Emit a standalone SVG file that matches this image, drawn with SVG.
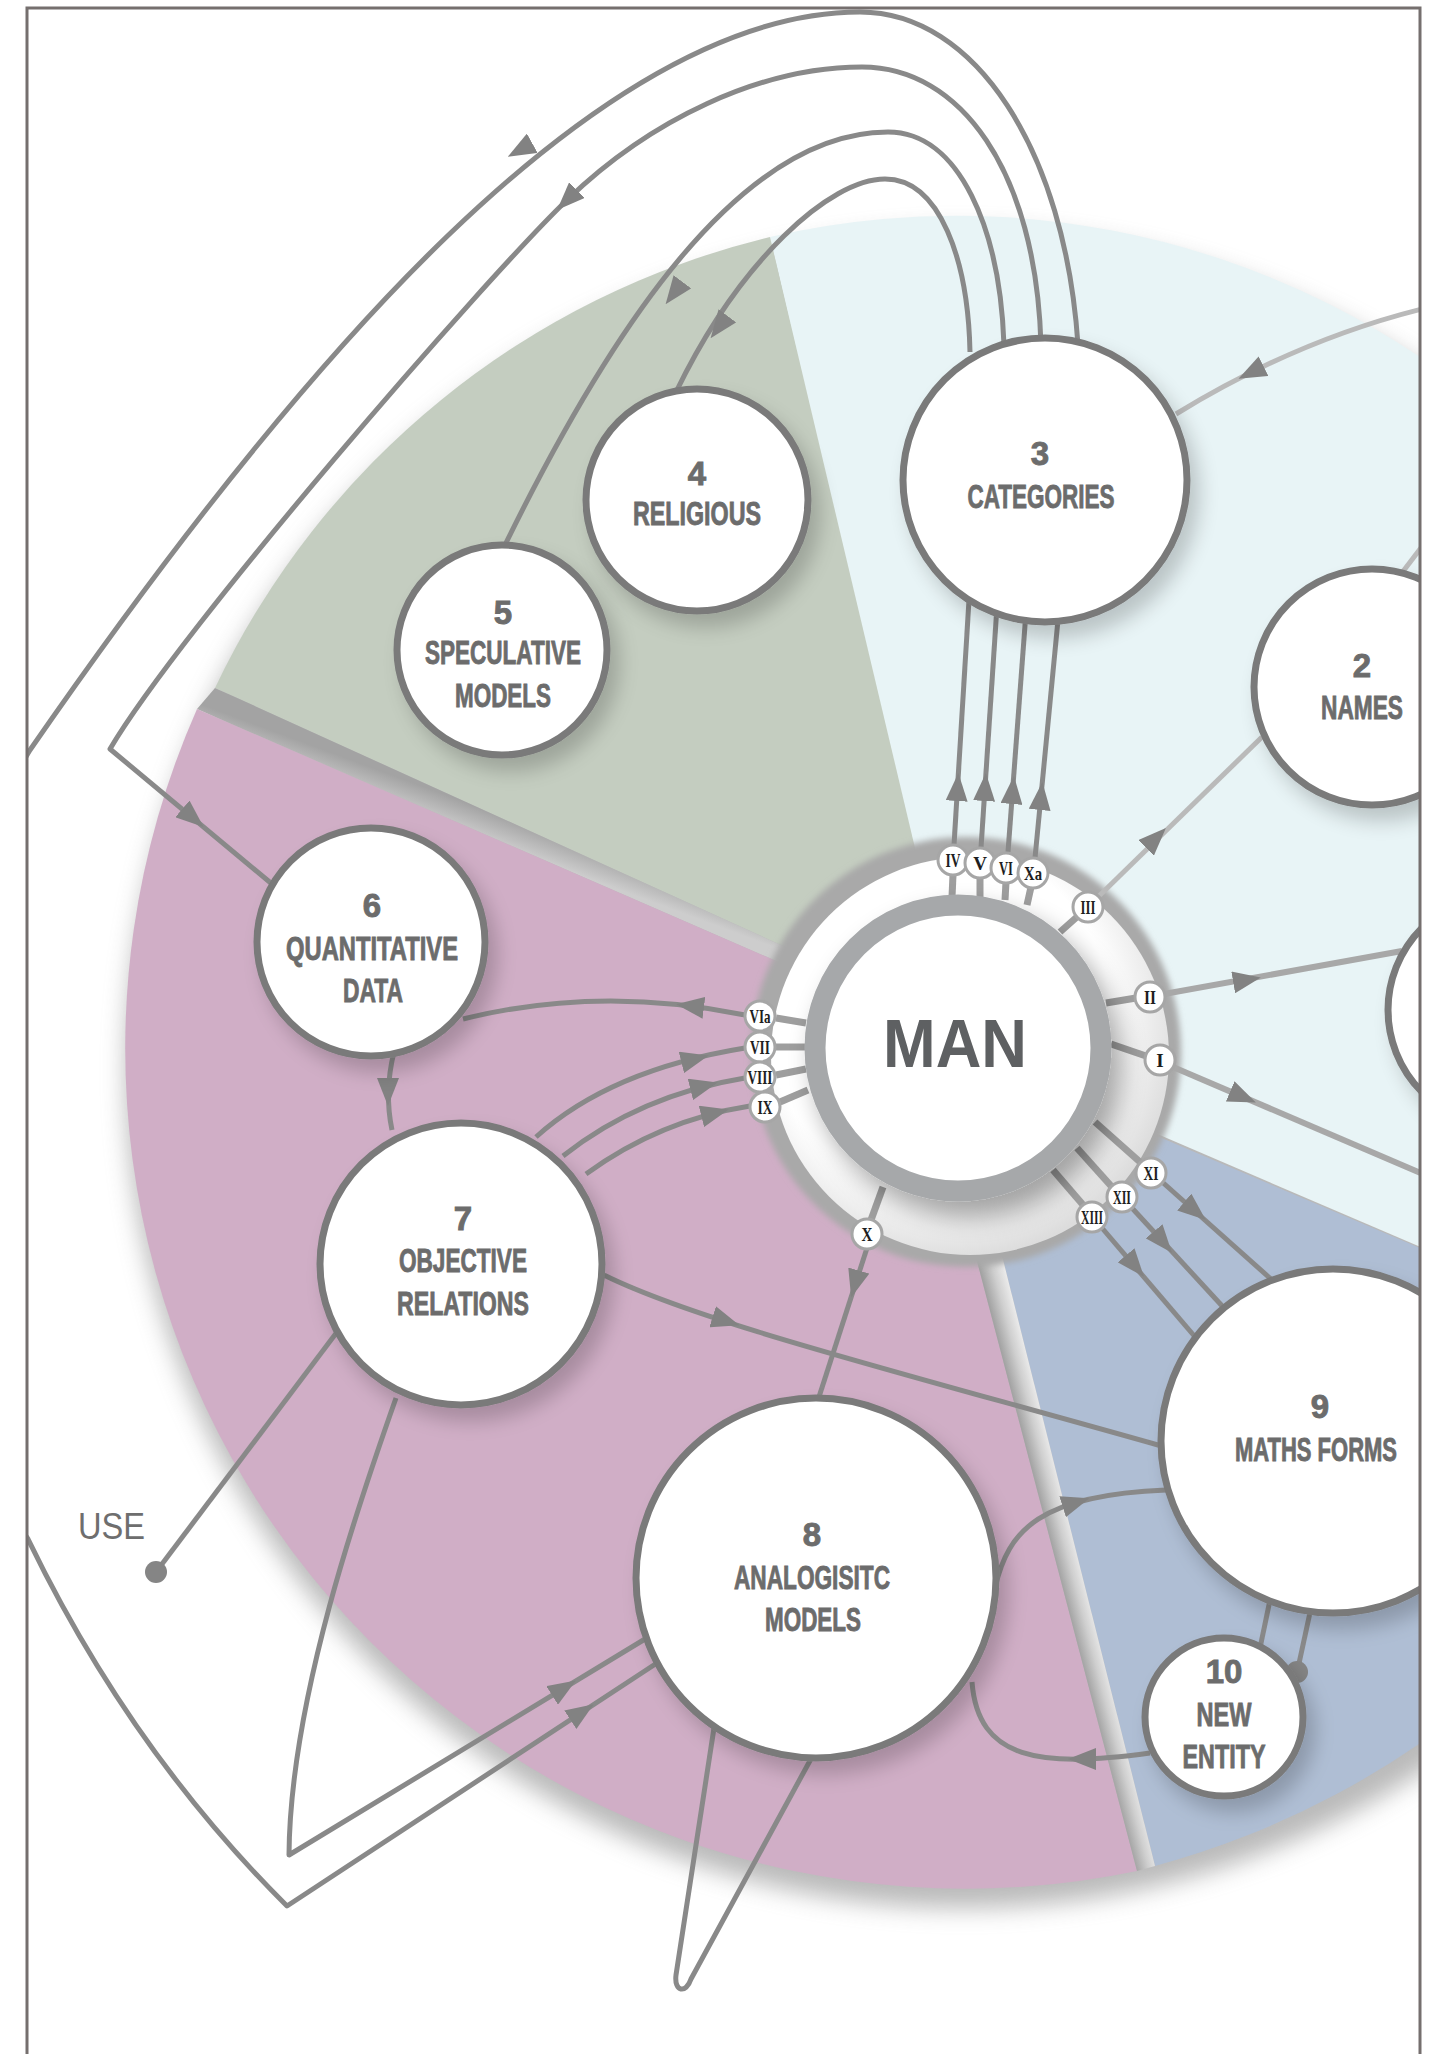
<svg xmlns="http://www.w3.org/2000/svg" width="1438" height="2054" viewBox="0 0 1438 2054">
<defs>
<style>
.nd{fill:#fff;stroke:#7a7a7a;stroke-width:7}
.lb{font-family:'Liberation Sans Narrow','Liberation Sans',Arial,sans-serif;font-weight:bold;font-size:33px;fill:#6c6c6c;stroke:#6c6c6c;stroke-width:0.9px;text-anchor:middle}
.c{fill:none;stroke:#898989;stroke-width:5;stroke-linejoin:round}
.cl{fill:none;stroke:#bababa;stroke-width:5}
.cm{fill:none;stroke:#a8a8a8;stroke-width:6}
.sp{fill:none;stroke:#9e9e9e;stroke-width:7}
.ah{fill:none;stroke:none;marker-end:url(#ah)}
.bd circle{fill:#fff;stroke:#a6a6a6;stroke-width:3}
.bd text{font-family:'Liberation Serif','DejaVu Serif',serif;font-weight:bold;font-size:19px;fill:#1e1e1e;text-anchor:middle}
</style>
<marker id="ah" markerUnits="userSpaceOnUse" markerWidth="28" markerHeight="22" viewBox="0 0 28 22" refX="14" refY="11" orient="auto"><path d="M0,0L28,11L0,22Z" fill="#828282"/></marker>
<filter id="ds" x="-30%" y="-30%" width="170%" height="170%">
<feGaussianBlur in="SourceAlpha" stdDeviation="10"/>
<feOffset dx="9" dy="13"/>
<feComponentTransfer><feFuncA type="linear" slope="0.2"/></feComponentTransfer>
<feMerge><feMergeNode/><feMergeNode in="SourceGraphic"/></feMerge>
</filter>
<filter id="dsm" x="-30%" y="-30%" width="170%" height="170%">
<feGaussianBlur in="SourceAlpha" stdDeviation="13"/>
<feOffset dx="10" dy="15"/>
<feComponentTransfer><feFuncA type="linear" slope="0.35"/></feComponentTransfer>
<feMerge><feMergeNode/><feMergeNode in="SourceGraphic"/></feMerge>
</filter>
<filter id="bl" x="-10%" y="-10%" width="120%" height="120%"><feGaussianBlur stdDeviation="12"/></filter>
<filter id="bl3" x="-10%" y="-10%" width="120%" height="120%"><feGaussianBlur stdDeviation="3"/></filter>
<clipPath id="fr"><rect x="27" y="8" width="1393" height="2046"/></clipPath>
<linearGradient id="gPB" gradientUnits="userSpaceOnUse" x1="1053" y1="1560" x2="1080" y2="1553"><stop offset="0" stop-color="#9b9b9b"/><stop offset=".55" stop-color="#cfcfcf"/><stop offset="1" stop-color="#eeeeee"/></linearGradient>
<linearGradient id="gGP" gradientUnits="userSpaceOnUse" x1="500" y1="815" x2="490" y2="842"><stop offset="0" stop-color="#a3a3a3"/><stop offset="1" stop-color="#cdcdcd"/></linearGradient>
<radialGradient id="gH" cx="0.42" cy="0.4" r="0.62"><stop offset="0.7" stop-color="#fff"/><stop offset="1" stop-color="#dcdcdc"/></radialGradient>
</defs>
<rect width="1438" height="2054" fill="#fff"/>
<g clip-path="url(#fr)">
<g id="pie">
<circle cx="964" cy="1070" r="838" fill="#767676" opacity=".5" filter="url(#bl)"/>
<path fill="#e8f4f6" d="M957,1048 L770,237 A832,832 0 0,1 1721,1376 Z"/>
<path fill="#afbed4" d="M950,1048 L1721,1376 A860,860 0 0,1 1155,1866 Z"/>
<path fill="#c4cdc0" d="M957,1025 L215,688 A830,830 0 0,1 770,237 Z"/>
<path fill="url(#gGP)" d="M957,1025 L215,688 L197,709 L914,1021 Z"/>
<path fill="#d0aec6" d="M914,1021 L1137,1871 A840,840 0 0,1 197,709 Z"/>
<path fill="url(#gPB)" d="M914,1021 L1137,1871 L1155,1866 L950,1048 Z"/>
</g>
<g id="halo">
<circle cx="966" cy="1052" r="215" fill="#a9a9a9" filter="url(#bl3)"/>
<circle cx="970" cy="1056" r="199" fill="url(#gH)"/>
</g>
<g id="connectors">
<path class="c" d="M1078,345 C1065,150 975,12 860,12 C600,12 300,360 30,750 C-120,1000 -100,1350 28,1539 Q130,1750 287,1906 L660,1661"/>
<path class="c" d="M1041,345 C1036,170 960,67 862,67 C760,67 650,120 567,200 C484,280 180,630 110,749 L272,884"/>
<path class="c" d="M1004,345 C1000,230 960,132 888,132 C740,132 610,330 504,547"/>
<path class="c" d="M970,352 C968,260 940,179 885,179 C830,179 740,260 676,392"/>
<path class="cl" d="M1430,307 Q1300,338 1176,414"/>
<path class="cl" d="M1398,578 L1430,536"/>
<path class="cl" d="M1098,897 L1262,737"/>
<path class="cm" d="M1164,994 L1402,951"/>
<path class="cm" d="M1173,1067 L1430,1177"/>
<path class="c" d="M1160,1180 L1272,1280"/>
<path class="c" d="M1132,1208 L1224,1308"/>
<path class="c" d="M1102,1228 L1196,1338"/>
<path class="c" d="M954,845 L969,600"/>
<path class="c" d="M981,848 L997,606"/>
<path class="c" d="M1008,852 L1026,612"/>
<path class="c" d="M1035,858 L1058,620"/>
<path class="c" d="M867,1248 L818,1400"/>
<path class="c" d="M463,1019 Q600,985 745,1015"/>
<path class="c" d="M536,1137 Q610,1070 745,1048"/>
<path class="c" d="M563,1156 Q640,1095 745,1078"/>
<path class="c" d="M586,1174 Q660,1120 750,1106"/>
<path class="c" d="M394,1052 Q384,1092 392,1130"/>
<path class="c" d="M598,1272 C690,1320 900,1372 1165,1447"/>
<path class="c" d="M156,1572 L340,1328"/>
<circle cx="156" cy="1572" r="11" fill="#858585"/>
<path class="c" d="M396,1398 C360,1500 290,1700 289,1855 L650,1636"/>
<path class="c" d="M714,1728 L676,1975 C674,1992 686,1994 691,1979 L812,1757"/>
<path class="c" d="M995,1588 C1008,1530 1040,1495 1166,1490"/>
<path class="c" d="M972,1682 C978,1760 1040,1768 1150,1753"/>
<path class="c" d="M1270,1600 L1260,1648"/>
<path class="c" d="M1311,1608 L1298,1668"/>
<circle cx="1297" cy="1672" r="11" fill="#858585"/>
<path class="sp" d="M952,897 L953,875"/>
<path class="sp" d="M980,898 L980,877"/>
<path class="sp" d="M1005,900 L1006,882"/>
<path class="sp" d="M1027,905 L1031,887"/>
<path class="sp" d="M1060,932 L1078,916"/>
<path class="sp" d="M1106,1003 L1136,998"/>
<path class="sp" d="M1111,1044 L1146,1056"/>
<path class="sp" d="M1095,1122 L1140,1162"/>
<path class="sp" d="M1077,1148 L1112,1187"/>
<path class="sp" d="M1053,1170 L1084,1206"/>
<path class="sp" d="M883,1187 L871,1220"/>
<path class="sp" d="M806,1023 L776,1018"/>
<path class="sp" d="M805,1047 L776,1047"/>
<path class="sp" d="M806,1069 L776,1075"/>
<path class="sp" d="M808,1090 L780,1102"/>
<path class="ah" d="M529,145 L520,150"/>
<path class="ah" d="M574,193 L567,200"/>
<path class="ah" d="M680,285 L674,293"/>
<path class="ah" d="M725,319 L719,327"/>
<path class="ah" d="M186,812 L193,818"/>
<path class="ah" d="M388,1084 L388,1092"/>
<path class="ah" d="M698,1007 L690,1006"/>
<path class="ah" d="M687,1061 L695,1059"/>
<path class="ah" d="M696,1088 L704,1086"/>
<path class="ah" d="M707,1115 L715,1113"/>
<path class="ah" d="M857,1277 L855,1284"/>
<path class="ah" d="M718,1318.5 L726,1321"/>
<path class="ah" d="M574,1717.3 L582,1712"/>
<path class="ah" d="M556,1693 L564,1688"/>
<path class="ah" d="M1068,1505 L1076,1502.5"/>
<path class="ah" d="M1090,1759 L1082,1759"/>
<path class="ah" d="M1150,844 L1156,838"/>
<path class="ah" d="M1239,981.4 L1247,980"/>
<path class="ah" d="M1236,1094 L1243,1097"/>
<path class="ah" d="M1189,1206 L1195,1211"/>
<path class="ah" d="M1158,1236 L1163,1242"/>
<path class="ah" d="M1130,1260 L1135,1266"/>
<path class="ah" d="M957,795 L957.5,787"/>
<path class="ah" d="M984.5,795 L985,787"/>
<path class="ah" d="M1012,798 L1012.7,790"/>
<path class="ah" d="M1040.2,804 L1041,796"/>
<path class="ah" d="M1259,368.5 L1251,372.5"/>
</g>
<g id="n1"><circle class="nd" cx="1504" cy="1010" r="116" filter="url(#ds)"/></g>
<g id="n2"><circle class="nd" cx="1372" cy="687" r="118" filter="url(#ds)"/><text class="lb" x="1362" y="677">2</text><text class="lb" x="1362" y="719" textLength="82" lengthAdjust="spacingAndGlyphs">NAMES</text></g>
<g id="n3"><circle class="nd" cx="1045" cy="480" r="142" filter="url(#ds)"/><text class="lb" x="1040" y="465">3</text><text class="lb" x="1041" y="508" textLength="147" lengthAdjust="spacingAndGlyphs">CATEGORIES</text></g>
<g id="n4"><circle class="nd" cx="697" cy="500" r="111" filter="url(#ds)"/><text class="lb" x="697" y="485">4</text><text class="lb" x="697" y="525" textLength="128" lengthAdjust="spacingAndGlyphs">RELIGIOUS</text></g>
<g id="n5"><circle class="nd" cx="502" cy="650" r="105" filter="url(#ds)"/><text class="lb" x="503" y="624">5</text><text class="lb" x="503" y="664" textLength="156" lengthAdjust="spacingAndGlyphs">SPECULATIVE</text><text class="lb" x="503" y="707" textLength="96" lengthAdjust="spacingAndGlyphs">MODELS</text></g>
<g id="n6"><circle class="nd" cx="371" cy="942" r="114" filter="url(#ds)"/><text class="lb" x="372" y="917">6</text><text class="lb" x="372" y="960" textLength="172" lengthAdjust="spacingAndGlyphs">QUANTITATIVE</text><text class="lb" x="373" y="1002" textLength="60" lengthAdjust="spacingAndGlyphs">DATA</text></g>
<g id="n7"><circle class="nd" cx="461" cy="1264" r="141" filter="url(#ds)"/><text class="lb" x="463" y="1230">7</text><text class="lb" x="463" y="1272" textLength="128" lengthAdjust="spacingAndGlyphs">OBJECTIVE</text><text class="lb" x="463" y="1315" textLength="132" lengthAdjust="spacingAndGlyphs">RELATIONS</text></g>
<g id="n8"><circle class="nd" cx="816" cy="1578" r="180" filter="url(#ds)"/><text class="lb" x="812" y="1546">8</text><text class="lb" x="812" y="1589" textLength="156" lengthAdjust="spacingAndGlyphs">ANALOGISITC</text><text class="lb" x="813" y="1631" textLength="96" lengthAdjust="spacingAndGlyphs">MODELS</text></g>
<g id="n9"><circle class="nd" cx="1333" cy="1441" r="172" filter="url(#ds)"/><text class="lb" x="1320" y="1418">9</text><text class="lb" x="1316" y="1461" textLength="162" lengthAdjust="spacingAndGlyphs">MATHS FORMS</text></g>
<g id="n10"><circle class="nd" cx="1224" cy="1717" r="79" filter="url(#ds)"/><text class="lb" x="1224" y="1683">10</text><text class="lb" x="1224" y="1726" textLength="55" lengthAdjust="spacingAndGlyphs">NEW</text><text class="lb" x="1224" y="1768" textLength="83" lengthAdjust="spacingAndGlyphs">ENTITY</text></g>
<g id="nMAN"><circle cx="958" cy="1048" r="143" fill="#fff" stroke="#a6a8aa" stroke-width="21" filter="url(#dsm)"/><text x="955" y="1067" font-family="'Liberation Sans',Arial,sans-serif" font-weight="bold" font-size="68" fill="#5e6062" text-anchor="middle" textLength="144" lengthAdjust="spacingAndGlyphs">MAN</text></g>
<g id="badges">
<g class="bd"><circle cx="953" cy="860" r="15"/><text x="953" y="867" textLength="15" lengthAdjust="spacingAndGlyphs">IV</text></g>
<g class="bd"><circle cx="980" cy="863" r="15"/><text x="980" y="870">V</text></g>
<g class="bd"><circle cx="1006" cy="868" r="15"/><text x="1006" y="875" textLength="14" lengthAdjust="spacingAndGlyphs">VI</text></g>
<g class="bd"><circle cx="1033" cy="873" r="15"/><text x="1033" y="880" textLength="18" lengthAdjust="spacingAndGlyphs">Xa</text></g>
<g class="bd"><circle cx="1088" cy="907" r="15"/><text x="1088" y="914" textLength="15" lengthAdjust="spacingAndGlyphs">III</text></g>
<g class="bd"><circle cx="1150" cy="997" r="15"/><text x="1150" y="1004" textLength="12" lengthAdjust="spacingAndGlyphs">II</text></g>
<g class="bd"><circle cx="1160" cy="1060" r="15"/><text x="1160" y="1067">I</text></g>
<g class="bd"><circle cx="1151" cy="1173" r="15"/><text x="1151" y="1180" textLength="15" lengthAdjust="spacingAndGlyphs">XI</text></g>
<g class="bd"><circle cx="1122" cy="1197" r="15"/><text x="1122" y="1204" textLength="18" lengthAdjust="spacingAndGlyphs">XII</text></g>
<g class="bd"><circle cx="1092" cy="1217" r="15"/><text x="1092" y="1224" textLength="22" lengthAdjust="spacingAndGlyphs">XIII</text></g>
<g class="bd"><circle cx="867" cy="1234" r="15"/><text x="867" y="1241" textLength="11" lengthAdjust="spacingAndGlyphs">X</text></g>
<g class="bd"><circle cx="760" cy="1016" r="15"/><text x="760" y="1023" textLength="21" lengthAdjust="spacingAndGlyphs">VIa</text></g>
<g class="bd"><circle cx="760" cy="1047" r="15"/><text x="760" y="1054" textLength="20" lengthAdjust="spacingAndGlyphs">VII</text></g>
<g class="bd"><circle cx="760" cy="1077" r="15"/><text x="760" y="1084" textLength="25" lengthAdjust="spacingAndGlyphs">VIII</text></g>
<g class="bd"><circle cx="765" cy="1107" r="15"/><text x="765" y="1114" textLength="15" lengthAdjust="spacingAndGlyphs">IX</text></g>
</g>
<g id="use"><text x="78" y="1539" font-family="'Liberation Sans Narrow','Liberation Sans',sans-serif" font-size="37" fill="#6e6e6e" textLength="67" lengthAdjust="spacingAndGlyphs">USE</text></g>
</g>
<rect x="27" y="8" width="1393" height="2070" fill="none" stroke="#756f6e" stroke-width="3"/>
</svg>
